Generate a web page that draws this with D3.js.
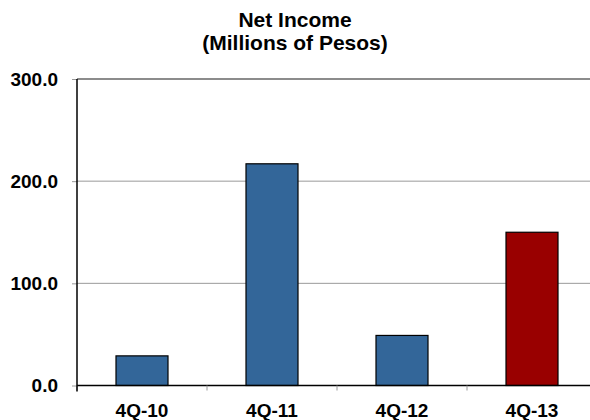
<!DOCTYPE html>
<html><head><meta charset="utf-8">
<script src="https://cdn.jsdelivr.net/npm/d3@7"></script>
<style>body{margin:0;background:#fff}svg{display:block}text{font-family:"Liberation Sans",Arial,sans-serif;font-weight:bold;fill:#000}</style>
</head><body><svg id="c" width="590" height="420"></svg>
<script>
const categories = ["4Q-10","4Q-11","4Q-12","4Q-13"];
const values = [29, 217, 49, 150];
const colors = ["#336699","#336699","#336699","#990000"];
const yTicks = [0,100,200,300];
const titleLines = ["Net Income","(Millions of Pesos)"];

const svg = d3.select("#c");
const x = d3.scaleBand().domain(categories).range([77,597]).paddingInner(0.6).paddingOuter(0.3);
const y = d3.scaleLinear().domain([0,300]).range([385.5,79]);

// gridlines
svg.append("g").selectAll("line").data(yTicks.filter(d=>d>0)).join("line")
  .attr("x1",77).attr("x2",590).attr("y1",d=>y(d)).attr("y2",d=>y(d))
  .attr("stroke",d=>d===300?"#666":"#999").attr("stroke-width",d=>d===300?1.5:1);

// y axis
const ya = svg.append("g").attr("transform","translate(77,0)")
  .call(d3.axisLeft(y).tickValues(yTicks).tickSize(5).tickPadding(14).tickFormat(d3.format(".1f")));
ya.select(".domain").remove();
ya.selectAll(".tick line").attr("stroke","#999");
ya.selectAll(".tick text").attr("font-size",19).style("font-family",'"Liberation Sans",Arial,sans-serif').style("font-weight","bold");

// bars
svg.append("g").selectAll("rect").data(values).join("rect")
  .attr("x",(d,i)=>x(categories[i])).attr("width",x.bandwidth())
  .attr("y",d=>y(d)).attr("height",d=>y(0)-y(d))
  .attr("fill",(d,i)=>colors[i]).attr("stroke","#000").attr("stroke-width",1.2);

// x axis
svg.append("line").attr("x1",77).attr("x2",590).attr("y1",y(0)).attr("y2",y(0)).attr("stroke","#000").attr("stroke-width",1.5);
svg.append("g").selectAll("line").data(categories.map((c,i)=>x(c)-x.step()*x.paddingInner()/2)).join("line")
  .attr("x1",d=>d).attr("x2",d=>d).attr("y1",y(0)).attr("y2",y(0)+5).attr("stroke","#999");
svg.append("g").selectAll("text").data(categories).join("text")
  .attr("x",d=>x(d)+x.bandwidth()/2).attr("y",417).attr("text-anchor","middle").attr("font-size",19).text(d=>d);

// y axis line
svg.append("line").attr("x1",77).attr("x2",77).attr("y1",79).attr("y2",y(0)+6).attr("stroke","#000").attr("stroke-width",1.5);

// title
svg.append("g").selectAll("text").data(titleLines).join("text")
  .attr("x",295).attr("y",(d,i)=>27+i*23).attr("text-anchor","middle").attr("font-size",21).text(d=>d);
</script></body></html>
